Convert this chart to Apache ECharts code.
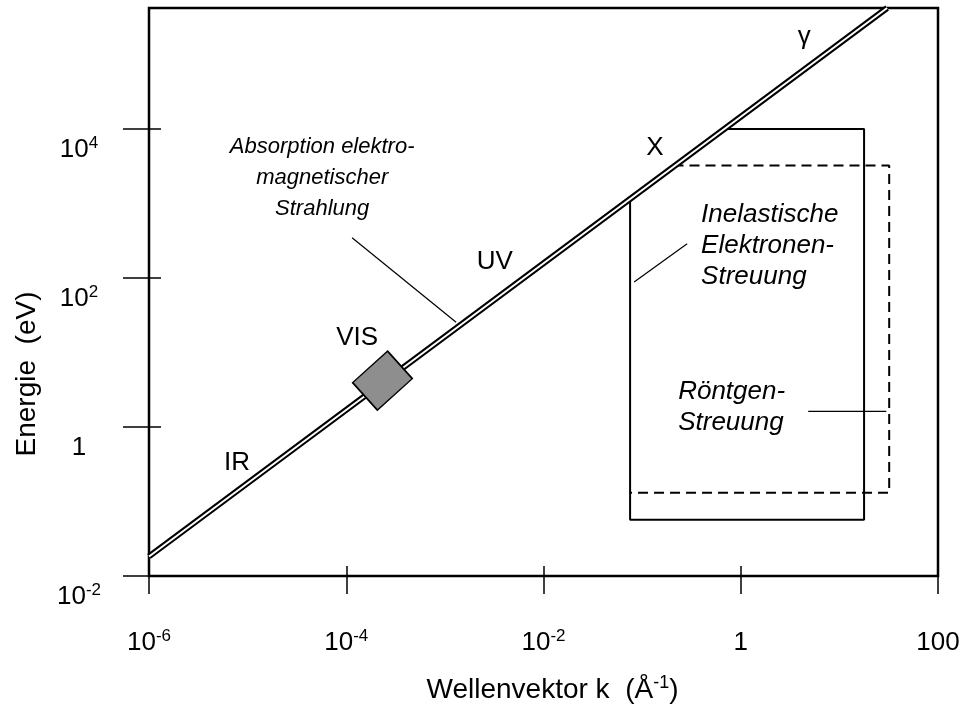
<!DOCTYPE html>
<html>
<head>
<meta charset="utf-8">
<script src="https://cdn.jsdelivr.net/npm/echarts@6/dist/echarts.min.js"></script>
<style>
  html, body { margin: 0; padding: 0; background: #fff; }
  #chart { width: 964px; height: 708px; }
</style>
</head>
<body>
<div id="chart"></div>
<script>
// Achsen (beide logarithmisch)
var xTicks = [1e-6, 1e-4, 1e-2, 1, 100];
var xTickLabels = ['10^-6', '10^-4', '10^-2', '1', '100'];
var yTicks = [0.01, 1, 100, 10000];
var yTickLabels = ['10^-2', '1', '10^2', '10^4'];
var xRange = [1e-6, 100];
var yRange = [0.01, 4.2e5];

// Photonen-Dispersion E(k), als Doppellinie gezeichnet
var photonLine = [[1e-6, 0.0183], [30.5, 4.2e5]];
// sichtbarer Bereich (graues Kaestchen)
var visPoint = [[2.33e-4, 4.19]];

// Bereiche der Streumethoden
var inelasticBox = [[0.0755, 1183], [0.0755, 0.0568], [17.8, 0.0568], [17.8, 1e4], [0.66, 1e4]];
var xrayBox = [[0.208, 3220], [32, 3220], [32, 0.131], [0.0755, 0.131]];

// Hinweislinien
var leaderAbsorption = [[1.146e-4, 346], [1.30e-3, 25.5]];
var leaderInelastic = [[0.083, 88.3], [0.286, 287]];
var leaderXray = [[4.83, 1.62], [29.9, 1.62]];

// Beschriftungen
var bandNames = ['IR', 'VIS', 'UV', 'X', 'γ'];
var bandPos = [[7.8e-6, 0.333], [1.29e-4, 15.6], [3.2e-3, 164], [0.135, 5640], [4.4, 1.74e5]];
var absorptionText = 'Absorption elektro-\nmagnetischer\nStrahlung';
var absorptionPos = [5.7e-5, 2220];
var methodTexts = ['Inelastische\nElektronen-\nStreuung', 'Röntgen-\nStreuung'];
var methodPos = [[0.396, 270], [0.232, 1.83]];

var FONT = '"Liberation Sans", Arial, Helvetica, sans-serif';

function supLabel(str) {
  var p = str.split('^');
  return p.length > 1 ? '{b|' + p[0] + '}{s|' + p[1] + '}' : '{b|' + p[0] + '}';
}
function tickFormatter(ticks, labels) {
  return function (v) {
    var e = Math.round(Math.log10(v));
    for (var i = 0; i < ticks.length; i++) {
      if (Math.round(Math.log10(ticks[i])) === e) return supLabel(labels[i]);
    }
    return '';
  };
}
var labelRich = {
  b: { fontSize: 26, lineHeight: 30, fontFamily: FONT, color: '#000' },
  s: { fontSize: 17, lineHeight: 17, fontFamily: FONT, color: '#000', verticalAlign: 'top' }
};
var tickStyle = { color: '#000', width: 1.5 };

function lineSeries(data, width, color, z, type) {
  return {
    type: 'line', data: data, showSymbol: false, symbol: 'none', silent: true, z: z,
    lineStyle: { color: color, width: width, type: type || 'solid' }
  };
}
function textSeries(data, label) {
  return {
    type: 'scatter', silent: true, z: 6, symbolSize: 1,
    itemStyle: { color: 'rgba(0,0,0,0)', opacity: 1 },
    data: data,
    label: Object.assign({ show: true, position: 'inside', formatter: '{b}', color: '#000',
      opacity: 1, fontFamily: FONT, fontSize: 26 }, label)
  };
}

var chart = echarts.init(document.getElementById('chart'));
chart.setOption({
  animation: false,
  backgroundColor: '#fff',
  grid: {
    left: 149, right: 26, top: 8, bottom: 132,
    show: true, borderColor: '#000', borderWidth: 2.5,
    containLabel: false, outerBoundsMode: 'none'
  },
  xAxis: [
    {
      type: 'log', logBase: 10, min: xRange[0], max: xRange[1], position: 'bottom',
      axisLine: { show: false }, splitLine: { show: false }, minorTick: { show: false },
      axisTick: { show: true, inside: false, length: 18, customValues: xTicks, lineStyle: tickStyle },
      axisLabel: { customValues: xTicks, margin: 52, formatter: tickFormatter(xTicks, xTickLabels), rich: labelRich },
      name: 'Wellenvektor k  (Å{s|-1})', nameLocation: 'middle', nameGap: 98,
      nameTextStyle: { fontSize: 28, lineHeight: 32, fontFamily: FONT, color: '#000',
        padding: [0, 0, 0, 18],
        rich: { s: { fontSize: 18, lineHeight: 18, fontFamily: FONT, color: '#000', verticalAlign: 'top' } } }
    },
    {
      type: 'log', logBase: 10, min: xRange[0], max: xRange[1], position: 'bottom',
      axisLine: { show: false }, splitLine: { show: false }, axisLabel: { show: false },
      axisTick: { show: true, inside: true, length: 10, customValues: xTicks, lineStyle: tickStyle }
    }
  ],
  yAxis: [
    {
      type: 'log', logBase: 10, min: yRange[0], max: yRange[1], position: 'left',
      axisLine: { show: false }, splitLine: { show: false }, minorTick: { show: false },
      axisTick: { show: true, inside: false, length: 26, customValues: yTicks, lineStyle: tickStyle },
      axisLabel: { customValues: yTicks, margin: 70, align: 'center', verticalAlign: 'top',
        padding: [6, 0, 0, 0], formatter: tickFormatter(yTicks, yTickLabels), rich: labelRich }
    },
    {
      type: 'log', logBase: 10, min: yRange[0], max: yRange[1], position: 'left',
      axisLine: { show: false }, splitLine: { show: false }, axisLabel: { show: false },
      axisTick: { show: true, inside: true, length: 12, customValues: yTicks, lineStyle: tickStyle }
    }
  ],
  graphic: [{
    type: 'text', x: 27, y: 374, rotation: Math.PI / 2, silent: true,
    style: { text: 'Energie  (eV)', fontSize: 28, fontFamily: FONT, fill: '#000', align: 'center', verticalAlign: 'middle' }
  }],
  series: [
    lineSeries(inelasticBox, 2, '#000', 2),
    lineSeries(xrayBox, 2, '#000', 2, [10, 6]),
    lineSeries(leaderAbsorption, 1.2, '#000', 2),
    lineSeries(leaderInelastic, 1.2, '#000', 2),
    lineSeries(leaderXray, 1.2, '#000', 2),
    lineSeries(photonLine, 6, '#000', 3),
    lineSeries(photonLine, 2, '#fff', 4),
    {
      type: 'scatter', data: visPoint, silent: true, z: 5,
      symbol: 'rect', symbolSize: [47, 37], symbolRotate: 42,
      itemStyle: { color: '#8e8e8e', opacity: 1, borderColor: '#000', borderWidth: 1.5 }
    },
    textSeries(bandNames.map(function (n, i) { return { name: n, value: bandPos[i] }; }), {}),
    textSeries([{ name: absorptionText, value: absorptionPos }],
      { fontSize: 22, fontStyle: 'italic', lineHeight: 31, align: 'center' }),
    textSeries(methodTexts.map(function (n, i) { return { name: n, value: methodPos[i] }; }),
      { fontStyle: 'italic', lineHeight: 31, align: 'left' })
  ]
});
</script>
</body>
</html>
